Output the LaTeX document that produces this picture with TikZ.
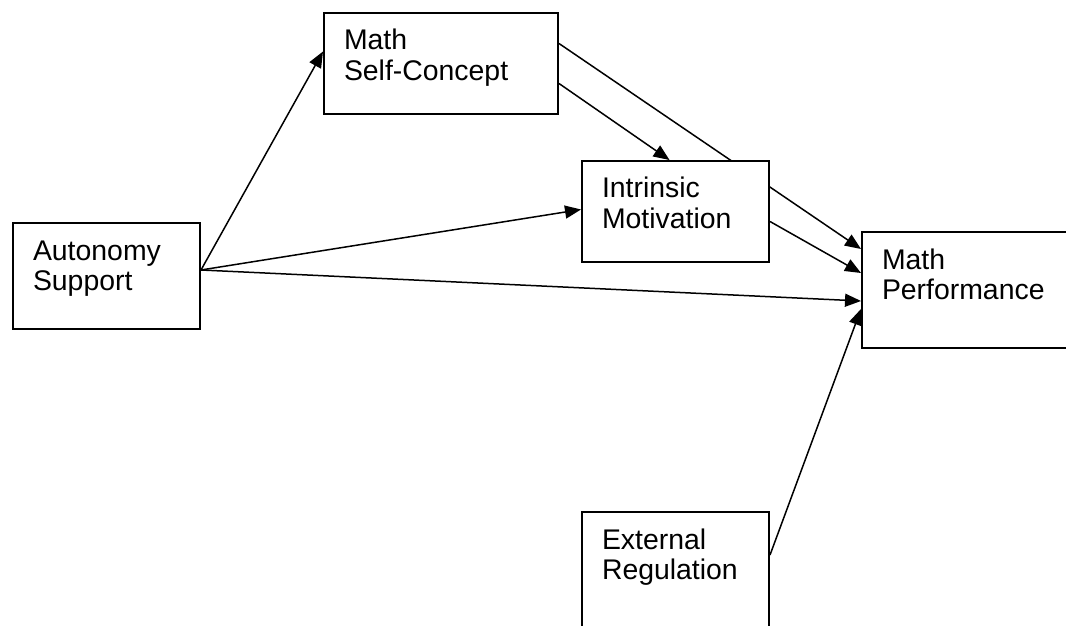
\documentclass[tikz,border=0pt]{standalone}
\usepackage{fontspec}
\setmainfont{Liberation Sans}
\usetikzlibrary{arrows.meta, positioning, backgrounds}
\tikzstyle{factor} = [rectangle, draw=black, line width=1pt, fill=white, anchor=north west, inner xsep=10pt, inner ysep=0pt, align=left, font=\fontsize{14.2pt}{15.4pt}\selectfont, text height=18.5pt]
\tikzstyle{arrow} = [line width=0.75pt, -{Triangle[length=8pt, width=6.5pt]}]

\begin{document}
\begin{tikzpicture}[x=0.5pt, y=-0.5pt]
        \clip[use as bounding box] (0,0) rectangle (1066,626);
        \node (autonomy) [factor, text width=73.5pt, text depth=34.5pt] at (12,222) {Autonomy\\Support};
        \node (selfconcept) [factor, text width=97pt, text depth=32pt] at (323,12) {Math\\Self-Concept};
        \node (intrinsic) [factor, text width=73.5pt, text depth=32pt] at (581,160) {Intrinsic\\Motivation};
        \node (performance) [factor, text width=95pt, text depth=39.5pt] at (861,231) {Math\\Performance};
        \node (external) [factor, text width=73.5pt, text depth=51.5pt] at (581,511) {External\\Regulation};

        % paths run under the boxes
        \begin{pgfonlayer}{background}
        \draw [arrow] ([yshift=3pt]autonomy.east) -- ([yshift=6pt]selfconcept.west);
        \draw [arrow] ([yshift=3pt]autonomy.east) -- ([yshift=1pt]intrinsic.west);
        \draw [arrow] ([yshift=3pt]autonomy.east) -- ([yshift=-5.5pt]performance.west);
        \draw [arrow] ([yshift=-10pt]selfconcept.east) -- ([xshift=-3pt]intrinsic.north);
        \draw [arrow] ([yshift=10pt]selfconcept.east) -- ([yshift=20.5pt]performance.west);
        \draw [arrow] ([yshift=-5pt]intrinsic.east) -- ([yshift=8.5pt]performance.west);
        \draw [arrow] ([yshift=-22pt]external.north east) -- ([yshift=-9.5pt]performance.west);
        \end{pgfonlayer}
    \end{tikzpicture}
\end{document}
